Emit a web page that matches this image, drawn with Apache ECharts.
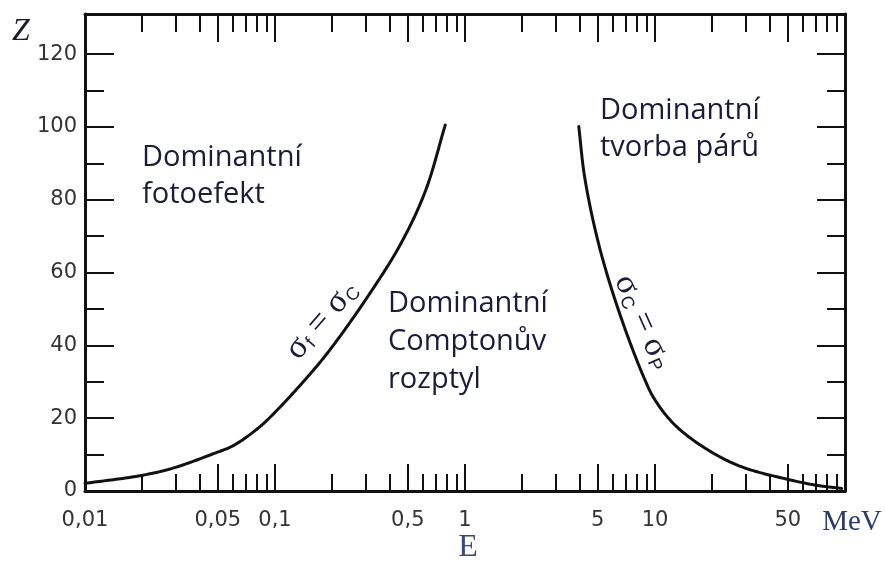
<!DOCTYPE html>
<html>
<head>
<meta charset="utf-8">
<script src="https://cdn.jsdelivr.net/npm/echarts@6/dist/echarts.min.js"></script>
<style>
html,body{margin:0;padding:0;background:#fff;}
#chart{width:885px;height:561px;}
</style>
</head>
<body>
<div id="chart"></div>
<script>
// ---- data ----
const xLabelValues = [0.01, 0.05, 0.1, 0.5, 1, 5, 10, 50];
const xTickLabels = ['0,01', '0,05', '0,1', '0,5', '1', '5', '10', '50'];
const xMajorTicks = [0.05, 0.1, 0.5, 1, 5, 10, 50];
const xMinorTicks = [0.02, 0.03, 0.04, 0.06, 0.07, 0.08, 0.09,
                     0.2, 0.3, 0.4, 0.6, 0.7, 0.8, 0.9,
                     2, 3, 4, 6, 7, 8, 9,
                     20, 30, 40, 60, 70, 80, 90];
const yMajorTicks = [0, 20, 40, 60, 80, 100, 120];
const yMinorTicks = [10, 30, 50, 70, 90, 110];

// sigma_f = sigma_C boundary (E in MeV, Z)
const photoComptonE = [0.01, 0.0195, 0.0287, 0.0483, 0.06, 0.08, 0.1, 0.157, 0.2, 0.305, 0.457, 0.618, 0.787];
const photoComptonZ = [2.1, 4.2, 6.2, 10.4, 12.4, 16.9, 21.6, 32.8, 39.6, 53.1, 67.7, 82.3, 100.5];
// sigma_C = sigma_p boundary
const comptonPairE = [3.97, 4.27, 5.06, 6.44, 8.72, 10, 12.8, 19.1, 28.7, 50, 70, 96];
const comptonPairZ = [100.1, 86, 67.7, 49.5, 31.3, 25, 18, 11.2, 6.6, 3.2, 1.6, 0.7];

// ---- chart ----
const ink = '#111';
const textInk = '#1b1b3a';
const lblColor = '#333';
const annFont = '"Open Sans", "Noto Sans", sans-serif';

function xLab(v) {
  let best = 0, bd = Infinity;
  xLabelValues.forEach((x, i) => { const d = Math.abs(Math.log10(x) - Math.log10(v)); if (d < bd) { bd = d; best = i; } });
  return xTickLabels[best];
}

// centripetal Catmull-Rom through pixel points (points come from api.coord)
function spline(P, seg) {
  const out = [];
  const d = (a, b) => Math.max(Math.sqrt(Math.hypot(b[0] - a[0], b[1] - a[1])), 1e-4);
  const mix = (a, b, wa, wb) => [a[0] * wa + b[0] * wb, a[1] * wa + b[1] * wb];
  for (let i = 0; i < P.length - 1; i++) {
    const p1 = P[i], p2 = P[i + 1];
    const p0 = P[i - 1] || [2 * p1[0] - p2[0], 2 * p1[1] - p2[1]];
    const p3 = P[i + 2] || [2 * p2[0] - p1[0], 2 * p2[1] - p1[1]];
    const t0 = 0, t1 = t0 + d(p0, p1), t2 = t1 + d(p1, p2), t3 = t2 + d(p2, p3);
    for (let k = 0; k < seg; k++) {
      const t = t1 + (t2 - t1) * k / seg;
      const A1 = mix(p0, p1, (t1 - t) / (t1 - t0), (t - t0) / (t1 - t0));
      const A2 = mix(p1, p2, (t2 - t) / (t2 - t1), (t - t1) / (t2 - t1));
      const A3 = mix(p2, p3, (t3 - t) / (t3 - t2), (t - t2) / (t3 - t2));
      const B1 = mix(A1, A2, (t2 - t) / (t2 - t0), (t - t0) / (t2 - t0));
      const B2 = mix(A2, A3, (t3 - t) / (t3 - t1), (t - t1) / (t3 - t1));
      out.push(mix(B1, B2, (t2 - t) / (t2 - t1), (t - t1) / (t2 - t1)));
    }
  }
  out.push(P[P.length - 1]);
  return out;
}

function curveSeries(E, Z) {
  return {
    type: 'custom', xAxisIndex: 0, yAxisIndex: 0, clip: false,
    data: E.map((e, i) => [e, Z[i]]),
    renderItem: (params, api) => {
      if (params.dataIndex !== 0) return null;
      const pts = E.map((e, i) => api.coord([e, Z[i]]));
      return {
        type: 'polyline',
        shape: { points: spline(pts, 24) },
        style: { stroke: ink, lineWidth: 3, fill: null, lineJoin: 'round', lineCap: 'round' }
      };
    }
  };
}

function xAxisDef(pos, ticks, len, withLine, withLabel) {
  return {
    type: 'log', logBase: 10, min: 0.01, max: 100, position: pos,
    axisLine: { show: withLine, onZero: false, lineStyle: { color: ink, width: 3 } },
    axisTick: { show: true, inside: true, length: len, customValues: ticks, lineStyle: { color: ink, width: 2 } },
    axisLabel: withLabel ? {
      show: true, customValues: xLabelValues, formatter: v => xLab(v),
      fontFamily: '"DejaVu Sans", sans-serif', fontSize: 21, color: lblColor, margin: 19
    } : { show: false },
    splitLine: { show: false }, minorTick: { show: false }, minorSplitLine: { show: false }
  };
}
function yAxisDef(pos, ticks, len, withLine, withLabel) {
  return {
    type: 'value', min: 0, max: 131, position: pos,
    axisLine: { show: withLine, onZero: false, lineStyle: { color: ink, width: 3 } },
    axisTick: { show: true, inside: true, length: len, customValues: ticks, lineStyle: { color: ink, width: 2 } },
    axisLabel: withLabel ? {
      show: true, customValues: yMajorTicks,
      fontFamily: '"DejaVu Sans", sans-serif', fontSize: 21, color: lblColor, margin: 8
    } : { show: false },
    splitLine: { show: false }
  };
}

const chart = echarts.init(document.getElementById('chart'), null, { renderer: 'canvas' });
chart.setOption({
  animation: false,
  backgroundColor: '#ffffff',
  grid: { left: 85, right: 40, top: 14, bottom: 70, containLabel: false },
  xAxis: [
    xAxisDef('bottom', xMajorTicks, 27, true, true),
    xAxisDef('bottom', xMinorTicks, 17, false, false),
    xAxisDef('top', xMajorTicks, 28, true, false),
    xAxisDef('top', xMinorTicks, 18, false, false)
  ],
  yAxis: [
    yAxisDef('left', yMajorTicks, 29, true, true),
    yAxisDef('left', yMinorTicks, 19, false, false),
    yAxisDef('right', yMajorTicks, 28, true, false),
    yAxisDef('right', yMinorTicks, 18, false, false)
  ],
  series: [
    curveSeries(photoComptonE, photoComptonZ),
    curveSeries(comptonPairE, comptonPairZ)
  ],
  graphic: [
    { type: 'text', x: 12, y: 32, style: { text: 'Z', font: 'italic 32px "Liberation Serif", serif', fill: '#1a1a2e', textVerticalAlign: 'middle' } },
    { type: 'text', x: 468, y: 548, style: { text: 'E', font: '32px "Liberation Serif", serif', fill: '#3a4a78', textAlign: 'center', textVerticalAlign: 'middle' } },
    { type: 'text', x: 852, y: 522, style: { text: 'MeV', font: '29px "Liberation Serif", serif', fill: '#2a3a6a', textAlign: 'center', textVerticalAlign: 'middle' } },
    { type: 'text', x: 142, y: 176, style: { text: 'Dominantní\nfotoefekt', font: '29px ' + annFont, fill: textInk, lineHeight: 37, textVerticalAlign: 'middle' } },
    { type: 'text', x: 388, y: 342, style: { text: 'Dominantní\nComptonův\nrozptyl', font: '29px ' + annFont, fill: textInk, lineHeight: 38, textVerticalAlign: 'middle' } },
    { type: 'text', x: 600, y: 129, style: { text: 'Dominantní\ntvorba párů', font: '29px ' + annFont, fill: textInk, lineHeight: 37, textVerticalAlign: 'middle' } },
    { type: 'text', x: 322, y: 320, rotation: 49 * Math.PI / 180,
      style: { text: '{s|σ}{b|f}{s| = σ}{b|C}', textAlign: 'center', textVerticalAlign: 'middle',
        rich: { s: { font: '34px "Liberation Serif", serif', fill: textInk }, b: { font: '18px "Liberation Sans", sans-serif', fill: textInk, padding: [14, 0, 0, 1] } } } },
    { type: 'text', x: 643, y: 322, rotation: -66 * Math.PI / 180,
      style: { text: '{s|σ}{b|C}{s| = σ}{b|P}', textAlign: 'center', textVerticalAlign: 'middle',
        rich: { s: { font: '34px "Liberation Serif", serif', fill: textInk }, b: { font: '18px "Liberation Sans", sans-serif', fill: textInk, padding: [14, 0, 0, 1] } } } }
  ]
});
</script>
</body>
</html>
